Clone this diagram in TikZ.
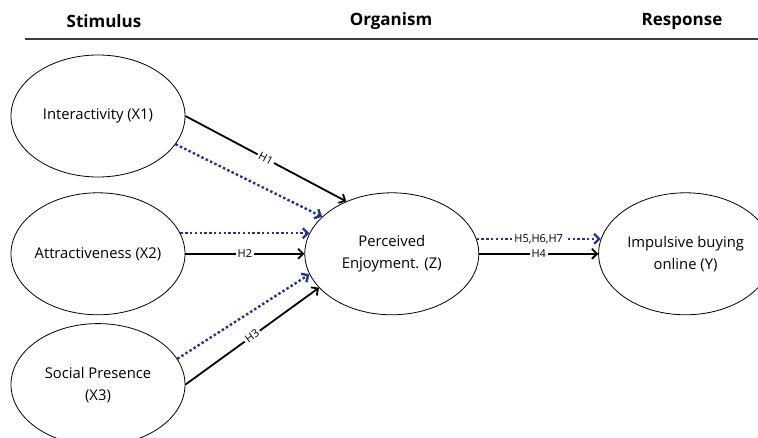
\documentclass[tikz,border=0pt]{standalone}
\usepackage{fontspec}
\setmainfont{Open Sans}
\usepackage{xcolor}
\usetikzlibrary{arrows.meta,positioning,shapes.geometric}
\definecolor{moder}{RGB}{38,52,140}
\definecolor{rulec}{RGB}{60,60,60}

\begin{document}
\begin{tikzpicture}[x=1pt,y=-1pt,
  node distance=15pt and 119pt,
  var/.style={ellipse,draw,line width=0.8pt,minimum width=174pt,minimum height=122pt,inner sep=0pt},
  vtext/.style={align=center,font=\fontsize{14.8}{22}\selectfont},
  head/.style={font=\fontsize{17}{18}\selectfont\bfseries},
  hyp/.style={fill=white,inner sep=2pt,font=\fontsize{11}{12}\selectfont,sloped},
  direct/.style={->,line width=1.8pt},
  indirect/.style={->,moder,line width=2.4pt,dash pattern=on 2.5pt off 2.3pt},
  >={Straight Barb[length=5pt,width=10pt]}]

\useasboundingbox (0,0) rectangle (758,438);

% header
\node[head] (stim) at (104,21) {Stimulus};
\node[head] (org) at (391,21) {Organism};
\node[head] (resp) at (682,21) {Response};
\coordinate (rulel) at (25,39);
\coordinate (ruler) at (758,39);
\draw[rulec,line width=1.2pt] (rulel)--(ruler);

% constructs
\node[var,label={[vtext]center:Interactivity (X1)}] (x1) at (98,116) {};
\node[var,below=of x1,label={[vtext]center:Attractiveness (X2)}] (x2) {};
\node[var,below=8pt of x2,label={[vtext]center:Social Presence\\(X3)}] (x3) {};
\node[var,right=of x2,label={[vtext]center:Perceived\\Enjoyment. (Z)}] (z) {};
\node[var,right=of z,label={[vtext]center:Impulsive buying\\online (Y)}] (y) {};

% paths
\draw[direct] (x1.east)-- node[hyp]{H1} (z.131.5);
\draw[indirect] (x1.-20.6)--(z.152.5);
\draw[indirect] (x2.14)--(z.166);
\draw[direct] (x2.east)-- node[hyp]{H2} (z.west);
\draw[indirect] (x3.18)--(z.194);
\draw[direct] (x3.east)-- node[hyp]{H3} (z.205.6);
\draw[indirect] (z.10)-- node[hyp,text=black]{H5,H6,H7} (y.170);
\draw[direct] (z.east)-- node[hyp]{H4} (y.west);
\end{tikzpicture}
\end{document}
